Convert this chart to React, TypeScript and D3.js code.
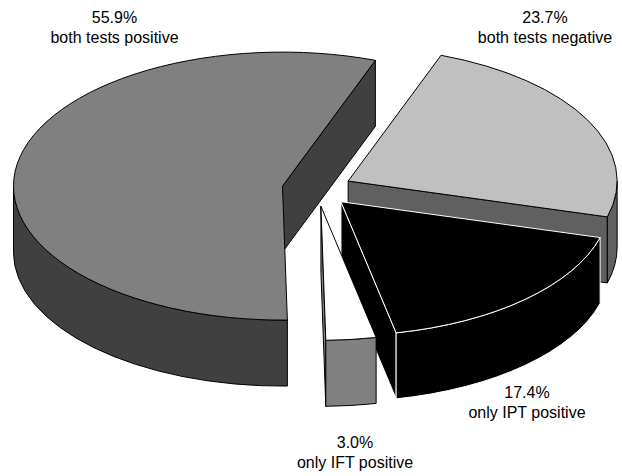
import React from "react";
import * as d3 from "d3";

// Slice data, in drawing order around the pie (clockwise on screen)
const categories = ["both tests negative", "only IPT positive", "only IFT positive", "both tests positive"];
const shares = [23.7, 17.4, 3.0, 55.9];
const shareLabels = ["23.7%", "17.4%", "3.0%", "55.9%"];

// Face colours for each slice
const topColors = ["#c0c0c0", "#000000", "#ffffff", "#808080"];
const sideColors = ["#606060", "#000000", "#808080", "#404040"];
const edgeColors = ["#000000", "#ffffff", "#000000", "#000000"];

const W = 622;
const H = 476;

// Projected pie geometry
const cx = 317;
const cy = 189;
const rx = 269;
const ry = 134;
const depth = 66;
const explode = 35;
const startDeg = -69.8; // screen angle of the first slice edge, clockwise from 3 o'clock

// Label anchor points (centre x, first baseline y)
const labelPos: [number, number][] = [
  [545, 23],
  [527, 398],
  [355, 448],
  [114.5, 23],
];

type P = [number, number];

const onEllipse = (c: P, t: number, dy = 0): P => [c[0] + rx * Math.cos(t), c[1] + ry * Math.sin(t) + dy];
const f = (p: P) => `${p[0].toFixed(2)},${p[1].toFixed(2)}`;

function arcTo(c: P, t0: number, t1: number, dy = 0) {
  const large = Math.abs(t1 - t0) > Math.PI ? 1 : 0;
  const sweep = t1 > t0 ? 1 : 0;
  return `A${rx},${ry} 0 ${large} ${sweep} ${f(onEllipse(c, t1, dy))}`;
}

function topFace(c: P, t0: number, t1: number) {
  return `M${f(c)} L${f(onEllipse(c, t0))} ${arcTo(c, t0, t1)} Z`;
}

function radialFace(c: P, t: number) {
  const p = onEllipse(c, t);
  return `M${f(c)} L${f(p)} L${f([p[0], p[1] + depth])} L${f([c[0], c[1] + depth])} Z`;
}

function outerFaces(c: P, t0: number, t1: number) {
  const out: string[] = [];
  for (let k = -1; k <= 1; k++) {
    const a = Math.max(t0, 2 * Math.PI * k);
    const b = Math.min(t1, 2 * Math.PI * k + Math.PI);
    if (b > a + 1e-6) {
      out.push(
        `M${f(onEllipse(c, a))} ${arcTo(c, a, b)} L${f(onEllipse(c, b, depth))} ${arcTo(c, b, a, depth)} Z`
      );
    }
  }
  return out;
}

export default function App() {
  const a0 = ((startDeg + 90) * Math.PI) / 180;
  const arcs = d3
    .pie<number>()
    .sort(null)
    .value((d) => d)
    .startAngle(a0)
    .endAngle(a0 + 2 * Math.PI)(shares);

  const slices = arcs.map((a, i) => {
    const t0 = a.startAngle - Math.PI / 2;
    const t1 = a.endAngle - Math.PI / 2;
    const m = (t0 + t1) / 2;
    const c: P = [cx + explode * Math.cos(m), cy + explode * (ry / rx) * Math.sin(m)];
    return { i, t0, t1, c };
  });

  const order = [...slices].sort((p, q) => p.c[1] - q.c[1]);

  return (
    <svg
      width={W}
      height={H}
      viewBox={`0 0 ${W} ${H}`}
      style={{ position: "absolute", left: 0, top: 0, background: "#fff" }}
    >
      <rect width={W} height={H} fill="#fff" />
      {order.map(({ i, t0, t1, c }) => {
        const faces: string[] = [];
        if (Math.cos(t0) < 0) faces.push(radialFace(c, t0));
        if (Math.cos(t1) > 0) faces.push(radialFace(c, t1));
        faces.push(...outerFaces(c, t0, t1));
        return (
          <g key={categories[i]} stroke={edgeColors[i]} strokeWidth={1} strokeLinejoin="round">
            {faces.map((d, j) => (
              <path key={j} d={d} fill={sideColors[i]} />
            ))}
            <path d={topFace(c, t0, t1)} fill={topColors[i]} />
          </g>
        );
      })}
      <g fontFamily="'Liberation Sans', Arial, sans-serif" fontSize={16} fill="#000" textAnchor="middle">
        {categories.map((name, i) => (
          <text key={name} x={labelPos[i][0]} y={labelPos[i][1]}>
            <tspan x={labelPos[i][0]}>{shareLabels[i]}</tspan>
            <tspan x={labelPos[i][0]} dy={20}>
              {name}
            </tspan>
          </text>
        ))}
      </g>
    </svg>
  );
}
